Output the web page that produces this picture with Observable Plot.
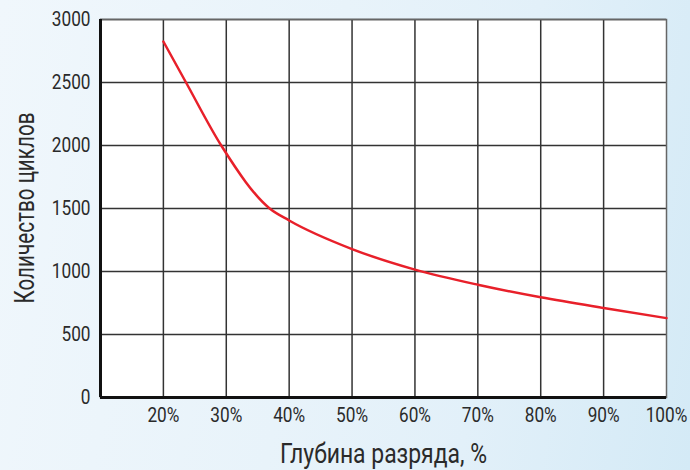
<!DOCTYPE html>
<html>
<head>
<meta charset="utf-8">
<script src="https://cdn.jsdelivr.net/npm/d3@7"></script>
<script src="https://cdn.jsdelivr.net/npm/@observablehq/plot@0.6"></script>
<style>
  html, body { margin: 0; padding: 0; }
  body {
    width: 690px; height: 470px; overflow: hidden;
    background: linear-gradient(100deg, #f0f7fc 0%, #e8f3fa 45%, #e2f0f9 70%, #d4eaf6 100%);
  }
  #chart svg { display: block; background: transparent; }
</style>
</head>
<body>
<div id="chart"></div>
<script>
// Data
const depth  = [20, 23.6, 29.2, 36.9, 40, 50, 60, 70, 80, 90, 100];
const cycles = [2825, 2500, 2000, 1500, 1405, 1178, 1015, 895, 795, 710, 630];
const xTicks = [20, 30, 40, 50, 60, 70, 80, 90, 100];
const yTicks = [0, 500, 1000, 1500, 2000, 2500, 3000];
const xTitle = "Глубина разряда, %";
const yTitle = "Количество циклов";

const data = depth.map((d, i) => ({depth: d, cycles: cycles[i]}));
const font = "Roboto, 'Liberation Sans', sans-serif";

const chart = Plot.plot({
  width: 690,
  height: 470,
  marginLeft: 100,
  marginRight: 24,
  marginTop: 19,
  marginBottom: 73,
  style: {fontFamily: font, fontSize: "20px", color: "#2a2a2a", background: "transparent", overflow: "visible"},
  x: {domain: [10, 100]},
  y: {domain: [0, 3000]},
  marks: [
    Plot.frame({fill: "white", stroke: "none"}),
    Plot.gridX({ticks: xTicks.slice(0, -1), stroke: "#333", strokeOpacity: 1, strokeWidth: 1.5}),
    Plot.gridY({ticks: yTicks.slice(1), stroke: "#333", strokeOpacity: 1, strokeWidth: 1.5}),
    Plot.frame({stroke: "#666", strokeWidth: 1.5}),
    Plot.ruleX([10], {stroke: "#111", strokeWidth: 3}),
    Plot.ruleY([0], {stroke: "#111", strokeWidth: 3}),
    Plot.line(data, {x: "depth", y: "cycles", stroke: "#e8202a", strokeWidth: 2.5, curve: "monotone-x"}),
    Plot.axisX({ticks: xTicks, tickSize: 0, tickPadding: 10, tickFormat: d => d + "%", label: null, fill: "#2a2a2a", fontSize: 20}),
    Plot.axisY({ticks: yTicks, tickSize: 0, tickPadding: 10, tickFormat: d => String(d), label: null, fill: "#2a2a2a", fontSize: 20}),
    Plot.text([xTitle], {frameAnchor: "bottom", dy: 65, fontSize: 27, fill: "#2a2a2a", className: "xtitle"}),
    Plot.text([yTitle], {frameAnchor: "left", dx: -75, dy: 95, rotate: -90, textAnchor: "start", fontSize: 27, fill: "#2a2a2a", className: "ytitle"})
  ]
});
document.getElementById("chart").append(chart);

// Condense the lettering horizontally, as in the reference (narrow typeface)
function condense(sel, factor, target) {
  chart.querySelectorAll(sel).forEach(t => {
    const w = t.getComputedTextLength();
    t.setAttribute("textLength", target ? target : w * factor);
    t.setAttribute("lengthAdjust", "spacingAndGlyphs");
  });
}
condense('g[aria-label="x-axis tick label"] text', 0.86);
condense('g[aria-label="y-axis tick label"] text', 0.86);
condense('.xtitle text', null, 207);
condense('.ytitle text', null, 191);
</script>
</body>
</html>
